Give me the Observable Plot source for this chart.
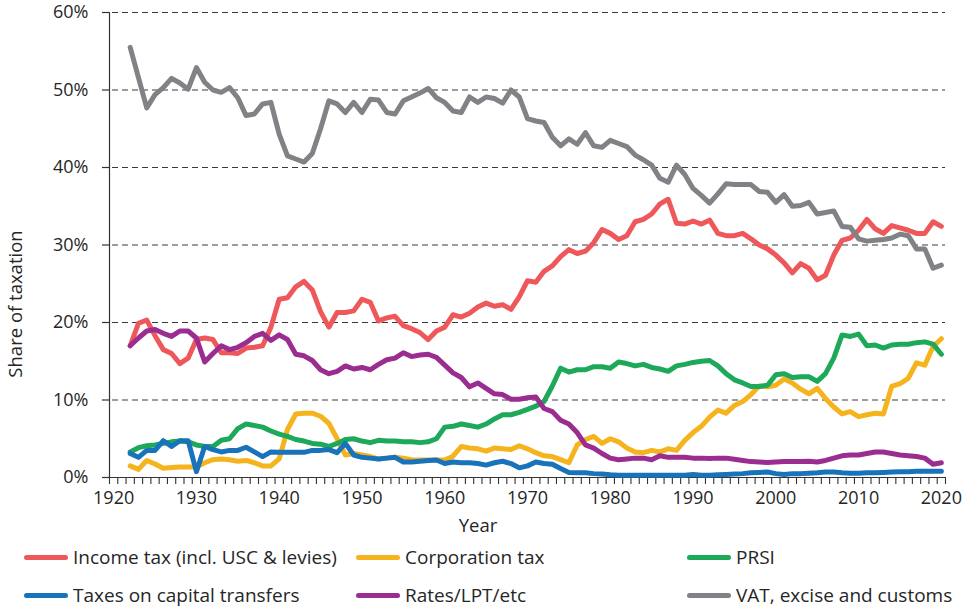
<!DOCTYPE html>
<html><head><meta charset="utf-8">
<script src="https://cdn.jsdelivr.net/npm/d3@7"></script>
<script src="https://cdn.jsdelivr.net/npm/@observablehq/plot@0.6"></script>
<style>
body{margin:0;background:#fff;font-family:"Open Sans",sans-serif;color:#262626}
#wrap{position:relative;width:970px;height:608px;overflow:hidden}
.li{position:absolute;display:flex;align-items:center;font-size:19px;line-height:20px;height:20px;white-space:nowrap;color:#262626}
.sw{width:44px;height:5px;border-radius:3px;margin-right:5px}
</style>
</head><body><div id="wrap"></div>
<script>
const years = d3.range(1922, 2021);
const yTicks = [0, 10, 20, 30, 40, 50, 60];
const gridVals = [10, 20, 30, 40, 50, 60];
const xLabels = [1920, 1930, 1940, 1950, 1960, 1970, 1980, 1990, 2000, 2010, 2020];
const seriesNames = ["Income tax (incl. USC & levies)", "Corporation tax", "PRSI", "Taxes on capital transfers", "Rates/LPT/etc", "VAT, excise and customs"];
const seriesColors = ["#EE585B", "#F5B41E", "#1EA85A", "#1873BA", "#9B2D91", "#808285"];

const incomeTax = [17.0,19.9,20.3,18.3,16.5,16.0,14.7,15.4,17.8,18.0,17.8,16.1,16.1,16.0,16.7,16.8,17.0,19.4,23.0,23.2,24.6,25.3,24.2,21.4,19.4,21.3,21.3,21.5,23.0,22.6,20.2,20.6,20.8,19.6,19.2,18.7,17.8,18.9,19.4,21.0,20.7,21.2,22.0,22.5,22.1,22.3,21.7,23.3,25.4,25.2,26.6,27.3,28.5,29.4,28.9,29.2,30.3,32.0,31.5,30.7,31.2,33.0,33.3,34.0,35.3,35.9,32.8,32.7,33.1,32.7,33.2,31.5,31.2,31.2,31.5,30.8,30.0,29.5,28.7,27.7,26.4,27.6,27.0,25.5,26.1,28.7,30.6,30.9,31.9,33.3,32.1,31.5,32.5,32.2,31.9,31.5,31.5,33.0,32.4];
const corporationTax = [1.5,1.05,2.2,1.75,1.2,1.3,1.35,1.35,1.4,1.9,2.3,2.4,2.3,2.1,2.2,1.9,1.5,1.5,2.4,6.2,8.2,8.3,8.3,7.9,7.0,5.0,2.9,3.1,2.9,2.7,2.4,2.5,2.6,2.5,2.3,2.25,2.25,2.25,2.25,2.75,4.0,3.8,3.7,3.4,3.8,3.7,3.6,4.1,3.7,3.2,2.8,2.7,2.3,1.9,4.2,4.9,5.3,4.4,5.0,4.6,3.8,3.3,3.2,3.5,3.3,3.7,3.5,4.8,5.8,6.6,7.8,8.7,8.3,9.3,9.8,10.7,11.8,11.7,11.9,12.7,12.2,11.4,10.8,11.5,10.2,9.1,8.2,8.5,7.85,8.1,8.3,8.2,11.75,12.1,12.8,14.8,14.5,16.9,17.9];
const prsi = [3.3,3.85,4.1,4.2,4.4,4.6,4.7,4.6,4.2,4.0,4.0,4.8,5.0,6.3,6.9,6.7,6.5,6.0,5.6,5.3,4.9,4.7,4.4,4.3,4.0,4.4,4.9,5.0,4.7,4.5,4.8,4.7,4.7,4.6,4.6,4.5,4.6,5.0,6.5,6.6,6.9,6.7,6.5,6.9,7.55,8.1,8.1,8.4,8.8,9.2,9.8,11.8,14.1,13.6,13.9,13.9,14.3,14.3,14.1,14.9,14.7,14.4,14.6,14.2,14.0,13.7,14.4,14.6,14.85,15.0,15.1,14.4,13.4,12.6,12.2,11.75,11.75,11.9,13.25,13.4,12.9,13.0,13.0,12.4,13.4,15.4,18.4,18.2,18.5,17.0,17.1,16.7,17.1,17.2,17.2,17.4,17.5,17.2,15.9];
const capitalTransfers = [3.1,2.6,3.5,3.5,4.75,4.0,4.75,4.75,0.75,4.0,3.6,3.3,3.5,3.5,3.9,3.3,2.7,3.3,3.25,3.25,3.25,3.25,3.5,3.5,3.6,3.2,4.4,2.9,2.6,2.5,2.4,2.5,2.6,2.0,2.0,2.1,2.2,2.25,1.8,2.0,1.9,1.9,1.8,1.6,1.9,2.1,1.8,1.25,1.5,2.0,1.8,1.7,1.15,0.65,0.6,0.6,0.5,0.45,0.35,0.3,0.3,0.3,0.3,0.3,0.3,0.3,0.3,0.3,0.4,0.3,0.3,0.35,0.4,0.45,0.5,0.6,0.65,0.7,0.5,0.4,0.5,0.5,0.55,0.6,0.7,0.7,0.6,0.55,0.55,0.6,0.6,0.65,0.7,0.75,0.75,0.8,0.8,0.8,0.8];
const rates = [17.0,18.0,18.9,19.1,18.6,18.2,18.9,18.9,18.0,14.9,16.0,17.0,16.5,16.8,17.4,18.2,18.6,17.7,18.4,17.8,15.9,15.7,15.1,13.9,13.4,13.7,14.4,14.0,14.2,13.9,14.6,15.2,15.4,16.1,15.6,15.8,15.9,15.5,14.5,13.5,12.9,11.7,12.2,11.5,10.8,10.7,10.1,10.1,10.3,10.4,8.9,8.5,7.4,6.9,5.8,4.2,3.8,3.1,2.5,2.3,2.4,2.5,2.5,2.3,2.8,2.6,2.6,2.6,2.5,2.5,2.45,2.5,2.5,2.35,2.2,2.05,2.0,1.95,2.0,2.05,2.05,2.05,2.1,2.0,2.2,2.5,2.8,2.9,2.9,3.1,3.3,3.3,3.1,2.9,2.8,2.7,2.5,1.7,1.9];
const vatExciseCustoms = [55.5,51.6,47.7,49.4,50.3,51.5,50.9,50.1,52.9,51.0,50.0,49.7,50.3,49.0,46.7,46.9,48.2,48.4,44.3,41.5,41.1,40.7,41.8,45.0,48.6,48.2,47.1,48.4,47.1,48.8,48.7,47.1,46.9,48.6,49.1,49.6,50.2,49.0,48.4,47.3,47.1,49.1,48.4,49.1,48.9,48.3,50.0,49.1,46.3,46.0,45.8,43.9,42.8,43.7,43.0,44.5,42.8,42.6,43.5,43.1,42.7,41.6,41.0,40.3,38.6,38.1,40.3,39.1,37.3,36.4,35.4,36.6,37.9,37.8,37.8,37.8,36.9,36.8,35.5,36.5,35.0,35.1,35.5,34.0,34.2,34.4,32.4,32.3,30.8,30.5,30.6,30.7,30.9,31.4,31.2,29.5,29.5,27.0,27.4];

const seriesValues = [incomeTax, corporationTax, prsi, capitalTransfers, rates, vatExciseCustoms];
const minorTicks = d3.range(1919.5, 2021, 1);

const W = 970, H = 540, ML = 109, MR = 25, MT = 12, MB = 63;
const plotH = H - MT - MB, plotW = W - ML - MR, tick = 7;

const lineMarks = seriesValues.map((vals, k) =>
  Plot.line(years, {x: d => d, y: (d, i) => vals[i], stroke: seriesColors[k], strokeWidth: 5, strokeLinecap: "round", strokeLinejoin: "round"})
);

const chart = Plot.plot({
  width: W, height: H,
  marginLeft: ML, marginRight: MR, marginTop: MT, marginBottom: MB,
  style: {fontFamily: "'Open Sans', sans-serif", color: "#262626", background: "#fff"},
  x: {domain: [1919.5, 2020.5], axis: null},
  y: {domain: [0, 60], axis: null},
  marks: [
    Plot.ruleY(gridVals, {stroke: "#3a3a3a", strokeWidth: 1.2, strokeDasharray: "6,4", insetLeft: 3}),
    Plot.ruleY(yTicks, {stroke: "#333", strokeWidth: 1.2, insetLeft: -tick, insetRight: plotW}),
    Plot.text(yTicks, {y: d => d, text: d => d + "%", frameAnchor: "left", textAnchor: "end", dx: -21, fontSize: 18, fill: "#262626"}),
    Plot.ruleX(minorTicks, {stroke: "#333", strokeWidth: 1.1, insetTop: plotH, insetBottom: -tick}),
    Plot.text(xLabels, {x: d => d, text: d => String(d), frameAnchor: "bottom", lineAnchor: "top", dy: 14, fontSize: 18, fill: "#262626"}),
    Plot.ruleY([0], {stroke: "#333", strokeWidth: 1.2}),
    Plot.ruleX([1919.5], {stroke: "#333", strokeWidth: 1.2}),
    ...lineMarks
  ]
});

const wrap = document.getElementById("wrap");
wrap.appendChild(chart);
const svg = d3.select(chart);
svg.append("text").attr("transform", "translate(17,304) rotate(-90)")
  .attr("text-anchor", "middle").attr("dominant-baseline", "middle")
  .attr("font-size", 18.5).attr("fill", "#262626").text("Share of taxation");
svg.append("text").attr("x", 478).attr("y", 527)
  .attr("text-anchor", "middle").attr("dominant-baseline", "middle")
  .attr("font-size", 18.5).attr("fill", "#262626").text("Year");

const legendPos = [[24, 557], [356, 557], [687, 557], [24, 595], [356, 595], [687, 595]];
seriesNames.forEach((name, k) => {
  const item = document.createElement("div");
  item.className = "li";
  item.style.left = legendPos[k][0] + "px";
  item.style.top = (legendPos[k][1] - 10) + "px";
  const sw = document.createElement("span");
  sw.className = "sw";
  sw.style.background = seriesColors[k];
  const tx = document.createElement("span");
  tx.textContent = name;
  item.appendChild(sw); item.appendChild(tx);
  wrap.appendChild(item);
});
</script>
</body></html>
